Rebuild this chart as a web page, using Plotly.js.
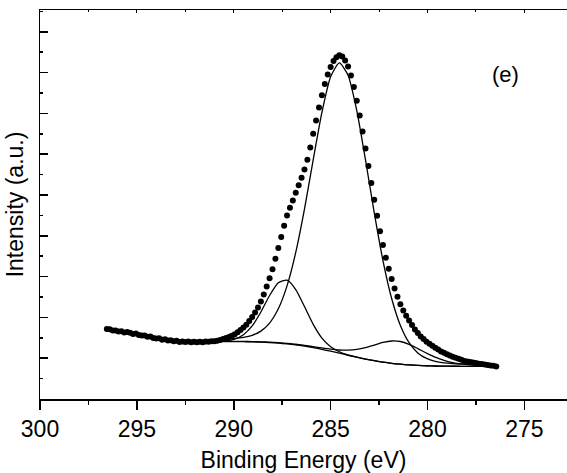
<!DOCTYPE html>
<html>
<head>
<meta charset="utf-8">
<script src="https://cdn.plot.ly/plotly-3.0.1.min.js"></script>
<style>html,body{margin:0;padding:0;background:#fff;}#chart{width:567px;height:473px;}</style>
</head>
<body>
<div id="chart"></div>
<script>
// Measured spectrum (dots): binding energy (eV) and intensity (a.u.)
const energy = [
296.55,296.40,296.25,296.10,295.95,295.80,295.65,295.50,295.35,295.20,
295.05,294.90,294.75,294.60,294.45,294.30,294.15,294.00,293.85,293.70,
293.55,293.40,293.25,293.10,292.95,292.80,292.65,292.50,292.35,292.20,
292.05,291.90,291.75,291.60,291.45,291.30,291.15,291.00,290.85,290.70,
290.55,290.40,290.25,290.10,289.95,289.80,289.65,289.50,289.35,289.20,
289.05,288.90,288.75,288.60,288.45,288.30,288.15,288.00,287.85,287.70,
287.55,287.40,287.25,287.10,286.95,286.80,286.65,286.50,286.35,286.20,
286.05,285.90,285.75,285.60,285.45,285.30,285.15,285.00,284.85,284.70,
284.55,284.40,284.25,284.10,283.95,283.80,283.65,283.50,283.35,283.20,
283.05,282.90,282.75,282.60,282.45,282.30,282.15,282.00,281.85,281.70,
281.55,281.40,281.25,281.10,280.95,280.80,280.65,280.50,280.35,280.20,
280.05,279.90,279.75,279.60,279.45,279.30,279.15,279.00,278.85,278.70,
278.55,278.40,278.25,278.10,277.95,277.80,277.65,277.50,277.35,277.20,
277.05,276.90,276.75,276.60,276.45];
const intensity = [
1.716,1.708,1.679,1.681,1.652,1.662,1.627,1.642,1.623,1.593,
1.603,1.571,1.554,1.559,1.525,1.529,1.495,1.480,1.490,1.451,
1.463,1.434,1.441,1.414,1.426,1.400,1.412,1.395,1.407,1.390,
1.404,1.392,1.402,1.392,1.409,1.402,1.417,1.417,1.429,1.446,
1.468,1.493,1.520,1.551,1.588,1.635,1.689,1.750,1.819,1.909,
2.010,2.118,2.245,2.392,2.564,2.755,2.961,3.179,3.439,3.701,
3.973,4.248,4.498,4.689,4.868,5.056,5.237,5.424,5.623,5.865,
6.167,6.498,6.826,7.147,7.446,7.721,7.951,8.137,8.284,8.375,
8.426,8.395,8.294,8.147,7.926,7.647,7.311,6.946,6.556,6.137,
5.711,5.292,4.882,4.490,4.110,3.772,3.463,3.194,2.944,2.711,
2.505,2.324,2.169,2.039,1.922,1.811,1.706,1.618,1.534,1.468,
1.404,1.353,1.304,1.255,1.211,1.167,1.132,1.096,1.066,1.037,
1.010,0.988,0.961,0.934,0.919,0.907,0.892,0.880,0.862,0.855,
0.846,0.833,0.824,0.812,0.797];

// Fitted curves (each component drawn on top of the background)
const fitEnergy = [
290.85,290.40,289.95,289.50,289.05,288.60,288.15,287.70,287.25,286.80,
286.35,285.90,285.45,285.00,284.55,284.10,283.65,283.20,282.75,282.30,
281.85,281.40,280.95,280.50,280.05,279.60,279.15,278.70,278.25,277.80,
277.35,276.90,276.45];
const background = [
1.409,1.408,1.406,1.404,1.399,1.393,1.383,1.369,1.350,1.326,
1.295,1.259,1.217,1.171,1.122,1.072,1.024,0.979,0.938,0.904,
0.875,0.853,0.836,0.823,0.815,0.809,0.805,0.803,0.802,0.801,
0.800,0.800,0.800];
const peakMain = [
1.462,1.470,1.484,1.510,1.560,1.664,1.861,2.210,2.773,3.593,
4.654,5.861,7.024,7.897,8.238,7.936,7.070,5.861,4.566,3.394,
2.463,1.802,1.379,1.130,0.994,0.924,0.887,0.868,0.857,0.848,
0.841,0.837,0.833];
const peakHigh = [
1.413,1.426,1.467,1.574,1.790,2.133,2.537,2.849,2.912,2.683,
2.265,1.830,1.493,1.281,1.158,1.082,1.026,0.979,0.938,0.904,
0.875,0.853,0.836,0.823,0.815,0.809,0.805,0.803,0.802,0.801,
0.800,0.800,0.800];
const peakLow = [
1.414,1.414,1.412,1.411,1.407,1.402,1.393,1.380,1.363,1.342,
1.314,1.283,1.251,1.222,1.201,1.198,1.217,1.261,1.322,1.385,
1.422,1.409,1.340,1.236,1.126,1.026,0.948,0.894,0.860,0.839,
0.827,0.820,0.816];

const xTickStep = 5;
const FONT = 'Liberation Sans, Arial, Helvetica, sans-serif';

const lineStyle = {color: '#000', width: 1.3, shape: 'spline', smoothing: 0.6};
const traces = [
  {x: fitEnergy, y: background, mode: 'lines', line: lineStyle, hoverinfo: 'skip'},
  {x: fitEnergy, y: peakLow, mode: 'lines', line: lineStyle, hoverinfo: 'skip'},
  {x: fitEnergy, y: peakHigh, mode: 'lines', line: lineStyle, hoverinfo: 'skip'},
  {x: fitEnergy, y: peakMain, mode: 'lines', line: lineStyle, hoverinfo: 'skip'},
  {x: energy, y: intensity, mode: 'markers', marker: {color: '#000', size: 6}},
  {x: [], y: [], xaxis: 'x2', yaxis: 'y', mode: 'markers', hoverinfo: 'skip'}
];

const layout = {
  width: 567, height: 473,
  margin: {l: 40, r: 0, t: 10, b: 74, pad: 0},
  paper_bgcolor: '#fff', plot_bgcolor: '#fff',
  showlegend: false,
  font: {family: FONT, color: '#000', size: 23},
  xaxis: {
    range: [300, 272.8], autorange: false,
    tick0: 300, dtick: xTickStep,
    ticks: 'outside', ticklen: 9, tickwidth: 1.5, tickcolor: '#000',
    minor: {dtick: xTickStep / 2, ticks: 'outside', ticklen: 4, tickwidth: 1.5, tickcolor: '#000', showgrid: false},
    showline: true, linecolor: '#000', linewidth: 1.5, mirror: true,
    showgrid: false, zeroline: false,
    tickfont: {family: FONT, size: 23, color: '#000'},
    title: {text: 'Binding Energy (eV)', font: {family: FONT, size: 23, color: '#000'}, standoff: 14}
  },
  xaxis2: {
    overlaying: 'x', side: 'top', anchor: 'y',
    range: [300, 272.8], autorange: false,
    tick0: 300, dtick: xTickStep,
    ticks: 'inside', ticklen: 3, tickwidth: 1, tickcolor: '#000',
    minor: {dtick: xTickStep / 2, ticks: 'inside', ticklen: 2, tickwidth: 1, tickcolor: '#000', showgrid: false},
    showticklabels: false, showline: false, showgrid: false, zeroline: false
  },
  yaxis: {
    range: [0, 9.534], autorange: false,
    tick0: 0, dtick: 1,
    ticks: 'inside', ticklen: 8, tickwidth: 1.5, tickcolor: '#000',
    minor: {dtick: 0.5, ticks: 'inside', ticklen: 3, tickwidth: 1.5, tickcolor: '#000', showgrid: false},
    showticklabels: false,
    showline: true, linecolor: '#000', linewidth: 1.5, mirror: false,
    showgrid: false, zeroline: false,
    title: {text: 'Intensity (a.u.)', font: {family: FONT, size: 23, color: '#000'}, standoff: 8}
  },
  annotations: [{
    text: '(e)', xref: 'paper', yref: 'paper', x: 0.884, y: 0.833,
    xanchor: 'center', yanchor: 'middle', showarrow: false,
    font: {family: FONT, size: 22, color: '#000'}
  }]
};

Plotly.newPlot('chart', traces, layout, {displayModeBar: false, staticPlot: true});
</script>
</body>
</html>
